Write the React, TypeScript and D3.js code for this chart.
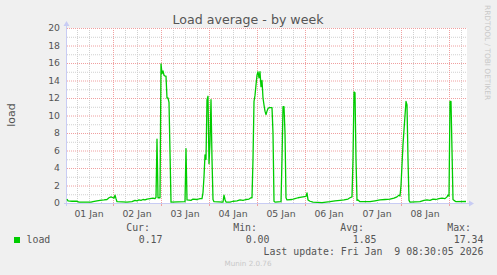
import React from "react";
import * as d3 from "d3";

// ---- data (half-hour slot index since Jan 1 2026 01:00 UTC, load value) ----
const slotIndex = [
  0, 1, 5, 10, 12, 24, 26, 30, 33, 37, 40, 42, 44, 46, 47, 48, 49, 50, 60, 65, 68, 70, 72, 74, 76, 78, 80, 83, 86, 88, 89,
  90, 91, 93, 94, 95, 96, 97, 98, 99, 100, 101, 102, 104, 118, 119, 120, 124, 126, 130, 133, 135,
  136, 137, 138, 139, 140, 141, 142, 143, 144, 145, 146, 147, 156, 157, 158, 159, 163, 166, 170, 173, 176, 179, 182, 184,
  185, 186, 187, 188, 189, 190, 191, 192, 193, 194, 195, 196, 197, 198, 199, 200, 201, 202, 203, 205, 206, 207, 208,
  214, 215, 216, 217, 218, 219, 220, 225, 228, 231, 233, 236, 239, 240, 241, 243, 246, 255, 263, 268, 273, 277, 281, 283,
  285, 286, 287, 288, 289, 290, 291, 293, 303, 308, 313, 318, 323, 327, 330, 332, 333, 334, 336, 338, 339, 340, 341, 342,
  343, 353, 357, 360, 363, 366, 369, 372, 375, 378, 380, 381, 382, 383, 384, 385, 386, 387, 389, 399,
];
const loadValues = [
  0.45, 0.25, 0.2, 0.2, 0.1, 0.1, 0.15, 0.25, 0.3, 0.35, 0.4, 0.6, 0.7, 0.6, 0.55, 0.9, 0.5, 0.15, 0.1, 0.15, 0.3, 0.25, 0.35, 0.3, 0.4, 0.35, 0.45, 0.5, 0.55, 0.5, 0.65,
  7.3, 0.6, 0.6, 15.9, 14.8, 15.1, 14.6, 14.5, 14.5, 12.0, 12.0, 11.5, 0.1, 0.15, 6.2, 0.35, 0.3, 0.45, 0.4, 0.5, 0.5,
  1.2, 3.0, 5.5, 5.0, 11.8, 12.2, 4.5, 7.0, 11.8, 5.0, 0.4, 0.15, 0.1, 0.9, 0.4, 0.1, 0.1, 0.2, 0.25, 0.35, 0.3, 0.4, 0.45, 0.6,
  0.6, 5.0, 11.6, 12.3, 13.5, 14.6, 15.0, 14.3, 15.0, 13.3, 14.0, 12.0, 11.2, 10.5, 10.1, 10.5, 10.8, 10.9, 10.9, 10.9, 8.0, 0.2, 0.1,
  0.15, 5.0, 11.0, 11.0, 8.0, 0.6, 0.35, 0.4, 0.5, 0.6, 0.65, 0.7, 0.75, 1.15, 0.35, 0.2, 0.1, 0.05, 0.15, 0.25, 0.3, 0.35, 0.45, 0.6,
  0.7, 5.0, 12.7, 12.6, 5.0, 0.3, 0.35, 0.15, 0.15, 0.25, 0.35, 0.4, 0.45, 0.55, 0.7, 0.9, 0.8, 2.0, 6.7, 10.0, 11.6, 11.2, 5.0, 0.3,
  0.1, 0.15, 0.3, 0.35, 0.3, 0.45, 0.4, 0.5, 0.55, 0.5, 0.7, 0.9, 0.8, 11.6, 11.6, 6.0, 0.4, 0.3, 0.15, 0.17,
];
const yTicks = [0, 2, 4, 6, 8, 10, 12, 14, 16, 18, 20];
const statLabels = ["Cur:", "Min:", "Avg:", "Max:"];
const statValues = ["0.17", "0.00", "1.85", "17.34"];
const seriesName = "load";
const titleText = "Load average - by week";
const lastUpdate = "Last update: Fri Jan  9 08:30:05 2026";
const versionText = "Munin 2.0.76";
const sideText = "RRDTOOL / TOBI OETIKER";

const W = 497;
const H = 275;
const PL = 67, PR = 467, PT = 28, PB = 203;
const HALF_HOUR = 30 * 60 * 1000;
const start = new Date(Date.UTC(2026, 0, 1, 1));
const end = new Date(start.getTime() + 400 * HALF_HOUR);

const GREEN = "#00cc00";
const MINOR = "#d0d0d0";
const MAJOR = "#f0a0a0";
const AXIS = "#c8ccf4";
const TXT = "#555555";
const MONO = "DejaVu Sans Mono, monospace";
const SANS = "DejaVu Sans, sans-serif";

export default function App() {
  const x = d3.scaleUtc().domain([start, end]).range([PL, PR]);
  const y = d3.scaleLinear().domain([0, 20]).range([PB, PT]);

  const points = slotIndex.map((s, i) => ({ t: new Date(start.getTime() + s * HALF_HOUR), v: loadValues[i] }));
  const line = d3
    .line<{ t: Date; v: number }>()
    .x((d) => x(d.t))
    .y((d) => y(d.v));

  const minorY = d3.range(0, 21, 1).filter((v) => v % 2 !== 0);
  const sixHours = d3.utcHour.every(6)!.range(start, end).filter((d) => d.getUTCHours() !== 0);
  const midnights = d3.utcDay.range(start, end);
  const noons = d3.utcDay.range(d3.utcDay.floor(start), end).map((d) => d3.utcHour.offset(d, 12)).filter((d) => d >= start && d <= end);
  const fmt = d3.utcFormat("%d %b");

  const statX = [150, 257, 364, 471];
  const valX = [162.5, 269.5, 376.5, 483.5];

  return (
    <svg width={W} height={H} style={{ position: "absolute", left: 0, top: 0 }} xmlns="http://www.w3.org/2000/svg">
      <rect x={0} y={0} width={W} height={H} fill="#f0f0f0" />
      <rect x={PL} y={PT} width={PR - PL} height={PB - PT} fill="#ffffff" />

      {/* minor grid */}
      {minorY.map((v) => (
        <line key={"my" + v} x1={PL} x2={PR} y1={y(v) + 0.5} y2={y(v) + 0.5} stroke={MINOR} strokeDasharray="1,1" />
      ))}
      {sixHours.map((d) => (
        <line key={"mx" + d.getTime()} x1={Math.round(x(d)) + 0.5} x2={Math.round(x(d)) + 0.5} y1={PT} y2={PB} stroke={MINOR} strokeDasharray="1,1" />
      ))}
      {/* major grid */}
      {yTicks.map((v) => (
        <line key={"My" + v} x1={PL} x2={PR} y1={y(v) + 0.5} y2={y(v) + 0.5} stroke={MAJOR} strokeDasharray="1,1" />
      ))}
      {midnights.map((d) => (
        <g key={"Mx" + d.getTime()}>
          <line x1={Math.round(x(d)) + 0.5} x2={Math.round(x(d)) + 0.5} y1={PT} y2={PB} stroke={MAJOR} strokeDasharray="1,1" />
          <line x1={Math.round(x(d)) + 0.5} x2={Math.round(x(d)) + 0.5} y1={PB} y2={PB + 3} stroke={MAJOR} />
        </g>
      ))}

      {/* axes */}
      <line x1={PL - 0.5} x2={PL - 0.5} y1={PB + 3} y2={PT - 4} stroke={AXIS} />
      <path d={`M${PL - 3.5},${PT - 2} L${PL - 0.5},${PT - 7} L${PL + 2.5},${PT - 2} Z`} fill={AXIS} />
      <line x1={PL - 3} x2={PR + 3} y1={PB + 0.5} y2={PB + 0.5} stroke={AXIS} />
      <path d={`M${PR + 2},${PB - 2.5} L${PR + 7},${PB + 0.5} L${PR + 2},${PB + 3.5} Z`} fill={AXIS} />

      {/* series */}
      <path d={line(points) || ""} fill="none" stroke={GREEN} strokeWidth={1.3} strokeLinejoin="round" />

      {/* y labels */}
      {yTicks.map((v) => (
        <text key={"yl" + v} x={60} y={y(v)} dy="0.36em" textAnchor="end" fontFamily={SANS} fontSize={9.3} fill={TXT}>
          {v}
        </text>
      ))}
      {/* x labels */}
      {noons.map((d) => (
        <text key={"xl" + d.getTime()} x={x(d)} y={216.5} textAnchor="middle" fontFamily={SANS} fontSize={9.3} fill={TXT}>
          {fmt(d)}
        </text>
      ))}

      {/* title */}
      <text x={248} y={24} textAnchor="middle" fontFamily={SANS} fontSize={12.6} fill={TXT}>
        {titleText}
      </text>
      <text transform="translate(15,115) rotate(-90)" textAnchor="middle" fontFamily={SANS} fontSize={11} fill={TXT}>
        {seriesName}
      </text>
      <text transform="translate(485,5) rotate(90)" textAnchor="start" fontFamily={SANS} fontSize={7.4} fill="#c8c8c8">
        {sideText}
      </text>

      {/* legend */}
      {statLabels.map((s, i) => (
        <text key={s} x={statX[i]} y={231} textAnchor="end" fontFamily={MONO} fontSize={9.9} fill={TXT}>
          {s}
        </text>
      ))}
      <rect x={14} y={237} width={6} height={6} fill={GREEN} />
      <text x={26.5} y={242.5} fontFamily={MONO} fontSize={9.9} fill={TXT}>
        {seriesName}
      </text>
      {statValues.map((s, i) => (
        <text key={"v" + i} x={valX[i]} y={242.5} textAnchor="end" fontFamily={MONO} fontSize={9.9} fill={TXT}>
          {s}
        </text>
      ))}
      <text x={483.5} y={255} textAnchor="end" fontFamily={MONO} fontSize={9.9} fill={TXT} style={{ whiteSpace: "pre" }}>
        {lastUpdate}
      </text>
      <text x={248} y={266} textAnchor="middle" fontFamily={SANS} fontSize={7.2} fill="#c8c8c8">
        {versionText}
      </text>
    </svg>
  );
}
